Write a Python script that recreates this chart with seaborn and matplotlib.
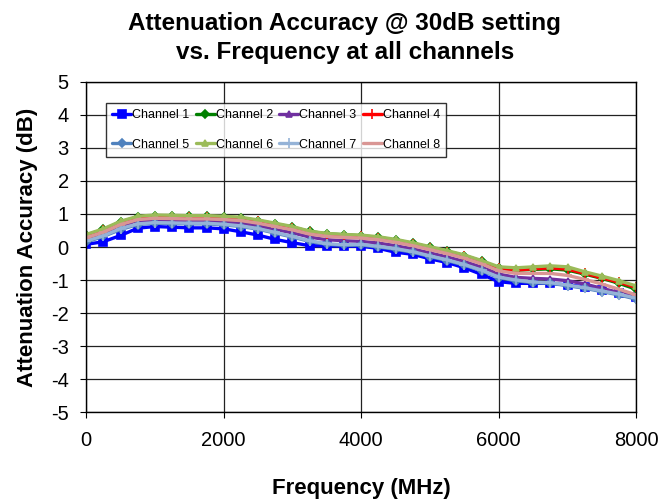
import matplotlib
matplotlib.use('Agg')

import matplotlib.pyplot as plt
import seaborn as sns
import pandas as pd

# Frequency points (MHz)
freq = [0, 250, 500, 750, 1000, 1250, 1500, 1750, 2000, 2250, 2500, 2750, 3000,
        3250, 3500, 3750, 4000, 4250, 4500, 4750, 5000, 5250, 5500, 5750, 6000,
        6250, 6500, 6750, 7000, 7250, 7500, 7750, 8000]

# Attenuation accuracy (dB) per channel
ch1 = [0.08, 0.16, 0.35, 0.57, 0.62, 0.60, 0.58, 0.58, 0.55, 0.46, 0.36, 0.23, 0.13,
       0.04, 0.03, 0.03, 0.02, -0.04, -0.16, -0.22, -0.36, -0.47, -0.63, -0.83, -1.05,
       -1.10, -1.10, -1.10, -1.15, -1.20, -1.30, -1.40, -1.50]
ch2 = [0.36, 0.53, 0.76, 0.91, 0.95, 0.94, 0.93, 0.93, 0.91, 0.88, 0.80, 0.70, 0.60,
       0.47, 0.40, 0.37, 0.34, 0.29, 0.21, 0.11, -0.01, -0.13, -0.26, -0.43, -0.64,
       -0.70, -0.68, -0.66, -0.70, -0.82, -0.95, -1.10, -1.28]
ch3 = [0.22, 0.38, 0.60, 0.75, 0.80, 0.79, 0.78, 0.78, 0.76, 0.72, 0.64, 0.53, 0.43,
       0.30, 0.22, 0.19, 0.17, 0.12, 0.04, -0.06, -0.18, -0.30, -0.44, -0.61, -0.82,
       -0.92, -0.95, -0.97, -1.02, -1.12, -1.25, -1.38, -1.52]
ch4 = [0.34, 0.50, 0.73, 0.88, 0.92, 0.91, 0.90, 0.90, 0.88, 0.85, 0.78, 0.68, 0.58,
       0.45, 0.37, 0.34, 0.32, 0.27, 0.19, 0.09, -0.03, -0.15, -0.28, -0.45, -0.65,
       -0.70, -0.66, -0.63, -0.67, -0.80, -0.93, -1.07, -1.22]
ch5 = [0.15, 0.32, 0.53, 0.68, 0.72, 0.71, 0.70, 0.70, 0.67, 0.62, 0.54, 0.42, 0.30,
       0.17, 0.08, 0.05, 0.06, 0.00, -0.07, -0.16, -0.29, -0.41, -0.55, -0.72, -0.93,
       -1.02, -1.08, -1.10, -1.17, -1.25, -1.35, -1.45, -1.58]
ch6 = [0.38, 0.55, 0.78, 0.93, 0.97, 0.96, 0.95, 0.95, 0.93, 0.90, 0.82, 0.72, 0.62,
       0.48, 0.41, 0.38, 0.36, 0.31, 0.23, 0.13, 0.01, -0.11, -0.24, -0.41, -0.60,
       -0.63, -0.60, -0.57, -0.60, -0.75, -0.88, -1.02, -1.18]
ch7 = [0.18, 0.34, 0.56, 0.70, 0.74, 0.73, 0.72, 0.72, 0.69, 0.64, 0.56, 0.44, 0.32,
       0.19, 0.10, 0.07, 0.08, 0.02, -0.05, -0.14, -0.27, -0.39, -0.53, -0.70, -0.91,
       -1.00, -1.06, -1.08, -1.15, -1.23, -1.33, -1.43, -1.55]
ch8 = [0.28, 0.45, 0.68, 0.83, 0.87, 0.86, 0.85, 0.85, 0.83, 0.80, 0.72, 0.62, 0.52,
       0.39, 0.32, 0.29, 0.27, 0.22, 0.14, 0.04, -0.08, -0.20, -0.34, -0.51, -0.72,
       -0.80, -0.80, -0.80, -0.86, -0.98, -1.12, -1.28, -1.45]

channels = ["Channel 1", "Channel 2", "Channel 3", "Channel 4",
            "Channel 5", "Channel 6", "Channel 7", "Channel 8"]
series = [ch1, ch2, ch3, ch4, ch5, ch6, ch7, ch8]

colors = ["#0000ff", "#008000", "#7030a0", "#ff0000",
          "#4f81bd", "#9bbb59", "#95b3d7", "#d99694"]
markers = ["s", "D", "^", "+", "D", "^", "+", "_"]
msizes = [6, 4, 5, 7, 4, 5, 7, 6]

df = pd.concat([pd.DataFrame({"Frequency": freq, "Accuracy": vals, "Channel": name})
                for name, vals in zip(channels, series)], ignore_index=True)

sns.set_style("white")
plt.rcParams['font.family'] = ['Liberation Sans', 'DejaVu Sans']
plt.rcParams['axes.unicode_minus'] = False
plt.rcParams['text.color'] = 'black'
plt.rcParams['axes.labelcolor'] = 'black'
plt.rcParams['xtick.color'] = 'black'
plt.rcParams['ytick.color'] = 'black'

fig, ax = plt.subplots(figsize=(6.58, 4.99), dpi=100)
fig.subplots_adjust(left=0.131, right=0.967, top=0.836, bottom=0.174)

handles = {}
for name, col, mk, ms in zip(channels, colors, markers, msizes):
    sub = df[df["Channel"] == name]
    sns.lineplot(data=sub, x="Frequency", y="Accuracy", ax=ax, color=col,
                 marker=mk, markersize=ms, markeredgecolor=col, markeredgewidth=1.2,
                 linewidth=2.4, label=name, legend=False)
    handles[name] = ax.lines[-1]

ax.set_xlim(0, 8000)
ax.set_ylim(-5, 5)
ax.set_xticks([0, 2000, 4000, 6000, 8000])
ax.set_yticks(range(-5, 6))
ax.grid(True, color="#222222", linewidth=0.9)
ax.set_axisbelow(True)
for sp in ax.spines.values():
    sp.set_color("black")
    sp.set_linewidth(1.0)
ax.tick_params(axis="both", labelsize=14.5, direction="out", length=4.5,
               width=0.8, color="black", labelcolor="black", bottom=True, left=True)
ax.tick_params(axis="x", pad=9)
ax.tick_params(axis="y", pad=8)

fig.text(0.524, 0.924, "Attenuation Accuracy @ 30dB setting\nvs. Frequency at all channels",
         ha="center", va="center", fontsize=17.5, fontweight="bold", linespacing=1.3,
         color="black")
ax.set_xlabel("Frequency (MHz)", fontsize=16, fontweight="bold", labelpad=20)
ax.set_ylabel("Attenuation Accuracy (dB)", fontsize=16, fontweight="bold", labelpad=9)

# matplotlib fills legend columns first; reorder so rows read 1-4 and 5-8
order = ["Channel 1", "Channel 5", "Channel 2", "Channel 6",
         "Channel 3", "Channel 7", "Channel 4", "Channel 8"]
leg = ax.legend(handles=[handles[n] for n in order], labels=order, ncol=4,
                loc="upper left", bbox_to_anchor=(0.036, 0.936), fontsize=9.0,
                frameon=True, fancybox=False, handlelength=1.5, handletextpad=0.1,
                columnspacing=0.5, borderpad=0.5, labelspacing=1.4,
                borderaxespad=0)
leg.get_frame().set_edgecolor("black")
leg.get_frame().set_linewidth(1.0)
for t in leg.get_texts():
    t.set_color("black")

fig.savefig("out.png", dpi=100)
